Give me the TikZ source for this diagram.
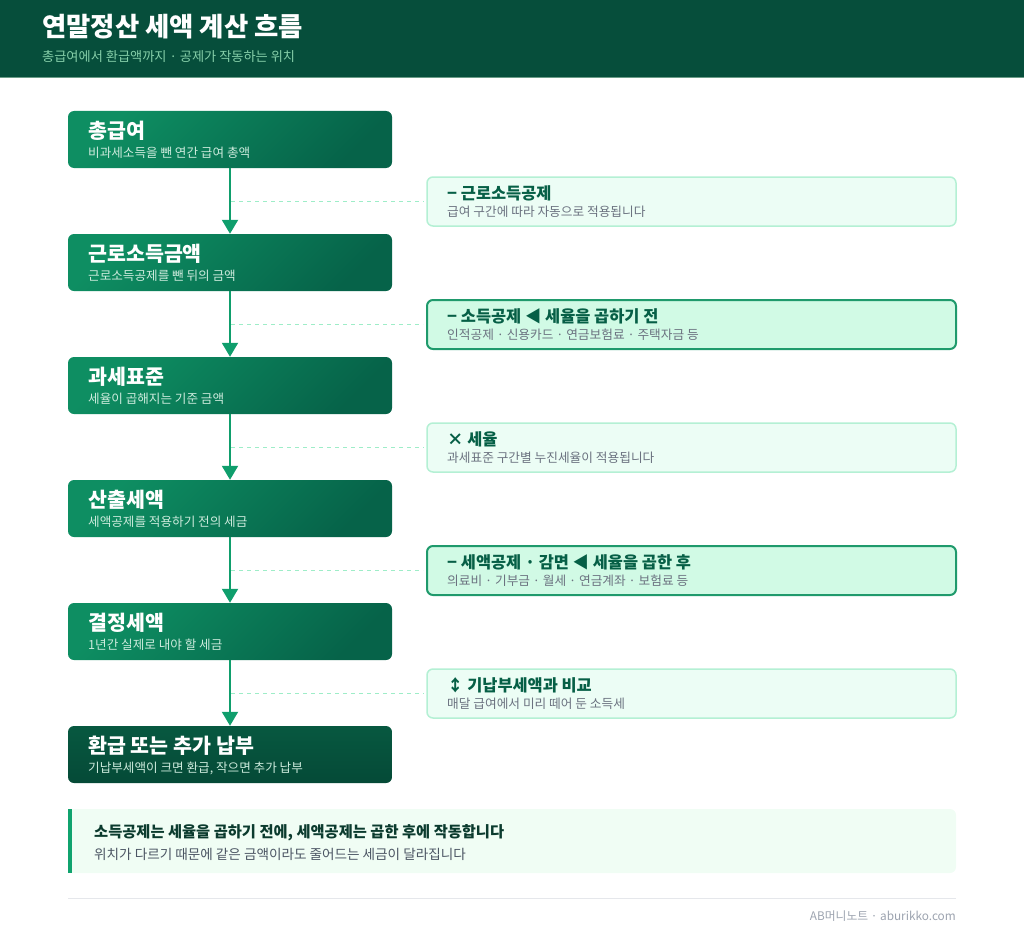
\documentclass[tikz,border=0pt]{standalone}
\usepackage{fontspec}
\setmainfont{Noto Sans CJK KR}
\usetikzlibrary{arrows.meta,calc}
\definecolor{hdr}{HTML}{064E3B}
\definecolor{hdrline}{HTML}{6A9C87}
\definecolor{hdrsub}{HTML}{86CFA9}
\definecolor{boxA}{HTML}{0E8E62}
\definecolor{boxB}{HTML}{066349}
\definecolor{lastA}{HTML}{075840}
\definecolor{lastB}{HTML}{054A37}
\definecolor{flow}{HTML}{0F9E6C}
\definecolor{dashc}{HTML}{9EEDC8}
\definecolor{lightfill}{HTML}{ECFDF5}
\definecolor{lightline}{HTML}{B4F0D4}
\definecolor{hifill}{HTML}{D1FAE5}
\definecolor{hiline}{HTML}{1F9A6C}
\definecolor{sidetitle}{HTML}{065F46}
\definecolor{sidesub}{HTML}{6B7280}
\definecolor{notefill}{HTML}{F0FDF4}
\definecolor{notebar}{HTML}{10A36E}
\definecolor{notetitle}{HTML}{0B3B2E}
\definecolor{notesub}{HTML}{4B5563}
\definecolor{footline}{HTML}{E5E7EB}
\definecolor{foottext}{HTML}{9CA3AF}
\definecolor{mainsub}{HTML}{CDEBDD}
\newcommand{\fs}[1]{\fontsize{#1}{#1}\selectfont}
\tikzset{
  mainbox/.style={rounded corners=6pt, minimum width=324pt, minimum height=57pt, inner sep=0pt,
    top color=boxA, bottom color=boxB, shading angle=45, draw=none},
  lastbox/.style={mainbox, top color=lastA, bottom color=lastB},
  maintitle/.style={anchor=base west, inner sep=0pt, text=white, font=\fs{20.6}\bfseries},
  mainsubt/.style={anchor=base west, inner sep=0pt, text=mainsub, font=\fs{12.6}},
  lightbox/.style={rounded corners=6pt, minimum width=529pt, minimum height=49pt, inner sep=0pt,
    fill=lightfill, draw=lightline, line width=1.5pt},
  hibox/.style={lightbox, fill=hifill, draw=hiline, line width=2pt},
  sidet/.style={anchor=base west, inner sep=0pt, text=sidetitle, font=\fs{16.4}\bfseries},
  sides/.style={anchor=base west, inner sep=0pt, text=sidesub, font=\fs{12.7}},
  flowline/.style={draw=flow, line width=2pt, -{Triangle[width=16pt,length=14pt]}},
  dashline/.style={draw=dashc, line width=1.8pt, dash pattern=on 4pt off 4pt, shorten >=3pt, shorten <=1pt},
}
\begin{document}
\begin{tikzpicture}[x=1pt,y=-1pt]
\useasboundingbox (0,0) rectangle (1024,939);
% header
\fill[hdr] (0,0) rectangle (1024,78);
\draw[hdrline, line width=1pt] (0,77.5) -- (1024,77.5);
\node[anchor=base west, inner sep=0pt, text=white, font=\fs{26.4}\bfseries] (htitle) at (42,37) {연말정산 세액 계산 흐름};
\node[anchor=base west, inner sep=0pt, text=hdrsub, font=\fs{13.2}] (hsub) at (42,62) {총급여에서 환급액까지 · 공제가 작동하는 위치};

% main boxes
\node[mainbox] (b1) at (230,139.5) {};
\node[mainbox] (b2) at (230,262.5) {};
\node[mainbox] (b3) at (230,385.5) {};
\node[mainbox] (b4) at (230,508.5) {};
\node[mainbox] (b5) at (230,631.5) {};
\node[lastbox] (b6) at (230,754.5) {};

\node[maintitle] (b1t) at (88,138) {총급여};
\node[mainsubt] (b1s) at (88,157) {비과세소득을 뺀 연간 급여 총액};
\node[maintitle] (b2t) at (88,261) {근로소득금액};
\node[mainsubt] (b2s) at (88,280) {근로소득공제를 뺀 뒤의 금액};
\node[maintitle] (b3t) at (88,384) {과세표준};
\node[mainsubt] (b3s) at (88,403) {세율이 곱해지는 기준 금액};
\node[maintitle] (b4t) at (88,507) {산출세액};
\node[mainsubt] (b4s) at (88,526) {세액공제를 적용하기 전의 세금};
\node[maintitle] (b5t) at (88,630) {결정세액};
\node[mainsubt] (b5s) at (88,649) {1년간 실제로 내야 할 세금};
\node[maintitle] (b6t) at (88,753) {환급 또는 추가 납부};
\node[mainsubt] (b6s) at (88,772) {기납부세액이 크면 환급, 작으면 추가 납부};

% side boxes
\node[lightbox] (s1) at (691.5,201.5) {};
\node[hibox] (s2) at (691.5,324.5) {};
\node[lightbox] (s3) at (691.5,447.5) {};
\node[hibox] (s4) at (691.5,570.5) {};
\node[lightbox] (s5) at (691.5,693.5) {};

\node[sidet] (s1t) at (447,199) {− 근로소득공제};
\node[sides] (s1s) at (447,216) {급여 구간에 따라 자동으로 적용됩니다};
\node[sidet] (s2t) at (447,322) {− 소득공제 ◀ 세율을 곱하기 전};
\node[sides] (s2s) at (447,339) {인적공제 · 신용카드 · 연금보험료 · 주택자금 등};
\node[sidet] (s3t) at (447,445) {× 세율};
\node[sides] (s3s) at (447,462) {과세표준 구간별 누진세율이 적용됩니다};
\node[sidet] (s4t) at (447,568) {− 세액공제 · 감면 ◀ 세율을 곱한 후};
\node[sides] (s4s) at (447,585) {의료비 · 기부금 · 월세 · 연금계좌 · 보험료 등};
\node[sidet] (s5t) at (447,691) {↕ 기납부세액과 비교};
\node[sides] (s5s) at (447,708) {매달 급여에서 미리 떼어 둔 소득세};

% dashed links
\draw[dashline] (s1.west -| b1.south) -- (s1.west);
\draw[dashline] (s2.west -| b2.south) -- (s2.west);
\draw[dashline] (s3.west -| b3.south) -- (s3.west);
\draw[dashline] (s4.west -| b4.south) -- (s4.west);
\draw[dashline] (s5.west -| b5.south) -- (s5.west);

% flow arrows
\draw[flowline] (b1.south) -- (b2.north);
\draw[flowline] (b2.south) -- (b3.north);
\draw[flowline] (b3.south) -- (b4.north);
\draw[flowline] (b4.south) -- (b5.north);
\draw[flowline] (b5.south) -- (b6.north);

% note
\node[rounded corners=6pt, fill=notefill, minimum width=888pt, minimum height=64pt, inner sep=0pt] (note) at (512,841) {};
\fill[notebar] (68,809) rectangle (72,873);
\node[anchor=base west, inner sep=0pt, text=notetitle, font=\fs{15.3}\bfseries] (nt) at (94,837) {소득공제는 세율을 곱하기 전에, 세액공제는 곱한 후에 작동합니다};
\node[anchor=base west, inner sep=0pt, text=notesub, font=\fs{13.6}] (ns) at (94,859) {위치가 다르기 때문에 같은 금액이라도 줄어드는 세금이 달라집니다};

% footer
\draw[footline, line width=1pt] (68,898) -- (956,898);
\node[anchor=base east, inner sep=0pt, text=foottext, font=\fs{11.8}] (foot) at (956,920) {AB머니노트 · aburikko.com};
\end{tikzpicture}
\end{document}
